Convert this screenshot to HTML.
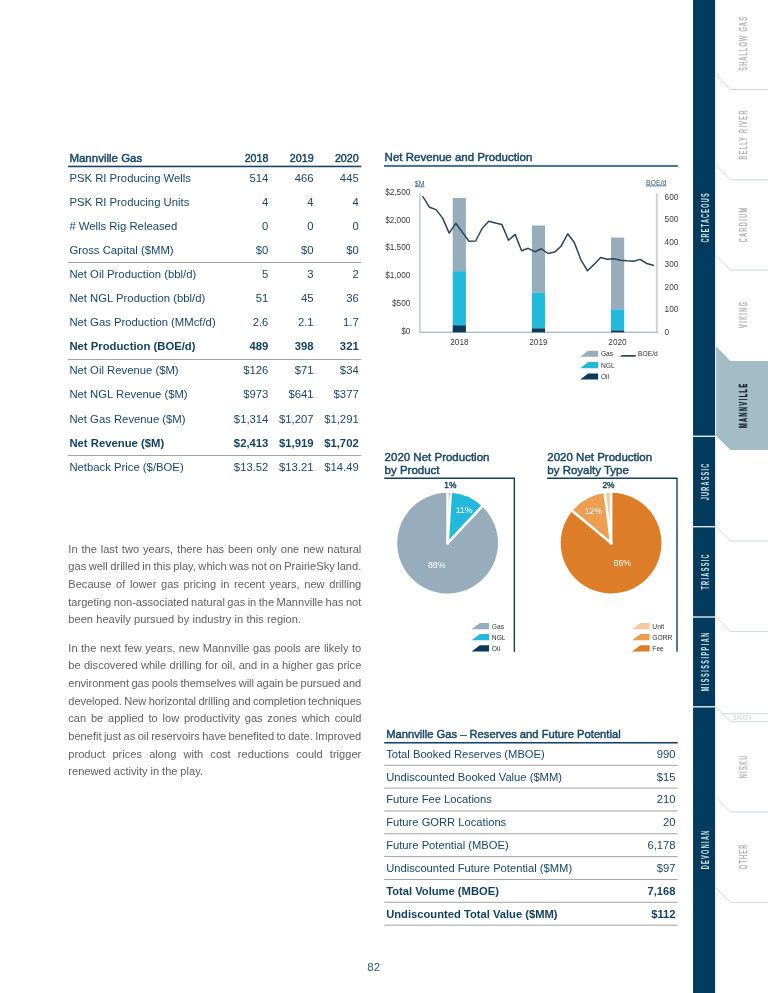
<!DOCTYPE html>
<html lang="en"><head><meta charset="utf-8"><title>Mannville Gas</title>
<style>
html,body{margin:0;padding:0;background:#fff;}
body{width:768px;height:993px;position:relative;overflow:hidden;font-family:"Liberation Sans",sans-serif;color:#194666;}
.abs{position:absolute;white-space:nowrap;}
svg{position:absolute;left:0;top:0;}
.row{position:absolute;left:68px;width:293.5px;height:24px;font-size:11.3px;line-height:24px;}
.row span{position:absolute;white-space:nowrap;}
.row .l{left:1.4px;}
.b{font-weight:bold;color:#133f5f;}
.title{position:absolute;font-size:11.5px;line-height:12.3px;white-space:nowrap;color:#194666;-webkit-text-stroke:0.45px #194666;}
.m i{font-style:normal;font-size:10.7px;}
.m{font-size:11.5px;-webkit-text-stroke:0.45px #194666;}
.p{position:absolute;left:68.3px;font-size:11.1px;line-height:17.65px;color:#616161;white-space:nowrap;height:17.65px;}
.r2{position:absolute;left:384.2px;width:293.5px;height:22.85px;font-size:11.2px;line-height:22.85px;}
.r2 span{position:absolute;white-space:nowrap;}
.r2 .l{left:2.0px;} .r2 .v{right:2.2px;}
.ax{font-size:8.25px;fill:#3d3d3d;}
.lg{font-size:6.7px;fill:#333;}
.vt{position:absolute;white-space:nowrap;width:0;height:0;font-size:10.6px;line-height:12px;}
.vt span{position:absolute;left:0;top:0;display:block;transform:translate(-50%,-50%) rotate(-90deg) scale(0.52,1);transform-origin:50% 50%;}
</style></head>
<body>
<div class="row m" style="top:145.50px"><span class="l">Mannville Gas</span><span class="c1" style="right:93.1px"><i>2018</i></span><span class="c2" style="right:47.9px"><i>2019</i></span><span class="c3" style="right:2.8px"><i>2020</i></span></div>
<div class="row" style="top:165.70px"><span class="l">PSK RI Producing Wells</span><span class="c1" style="right:93.1px">514</span><span class="c2" style="right:47.9px">466</span><span class="c3" style="right:2.8px">445</span></div>
<div class="row" style="top:189.78px"><span class="l">PSK RI Producing Units</span><span class="c1" style="right:93.1px">4</span><span class="c2" style="right:47.9px">4</span><span class="c3" style="right:2.8px">4</span></div>
<div class="row" style="top:213.86px"><span class="l"># Wells Rig Released</span><span class="c1" style="right:93.1px">0</span><span class="c2" style="right:47.9px">0</span><span class="c3" style="right:2.8px">0</span></div>
<div class="row" style="top:237.94px"><span class="l">Gross Capital ($MM)</span><span class="c1" style="right:93.1px">$0</span><span class="c2" style="right:47.9px">$0</span><span class="c3" style="right:2.8px">$0</span></div>
<div class="row" style="top:262.02px"><span class="l">Net Oil Production (bbl/d)</span><span class="c1" style="right:93.1px">5</span><span class="c2" style="right:47.9px">3</span><span class="c3" style="right:2.8px">2</span></div>
<div class="row" style="top:286.10px"><span class="l">Net NGL Production (bbl/d)</span><span class="c1" style="right:93.1px">51</span><span class="c2" style="right:47.9px">45</span><span class="c3" style="right:2.8px">36</span></div>
<div class="row" style="top:310.18px"><span class="l">Net Gas Production (MMcf/d)</span><span class="c1" style="right:93.1px">2.6</span><span class="c2" style="right:47.9px">2.1</span><span class="c3" style="right:2.8px">1.7</span></div>
<div class="row b" style="top:334.26px"><span class="l">Net Production (BOE/d)</span><span class="c1" style="right:93.1px">489</span><span class="c2" style="right:47.9px">398</span><span class="c3" style="right:2.8px">321</span></div>
<div class="row" style="top:358.34px"><span class="l">Net Oil Revenue ($M)</span><span class="c1" style="right:93.1px">$126</span><span class="c2" style="right:47.9px">$71</span><span class="c3" style="right:2.8px">$34</span></div>
<div class="row" style="top:382.42px"><span class="l">Net NGL Revenue ($M)</span><span class="c1" style="right:93.1px">$973</span><span class="c2" style="right:47.9px">$641</span><span class="c3" style="right:2.8px">$377</span></div>
<div class="row" style="top:406.50px"><span class="l">Net Gas Revenue ($M)</span><span class="c1" style="right:93.1px">$1,314</span><span class="c2" style="right:47.9px">$1,207</span><span class="c3" style="right:2.8px">$1,291</span></div>
<div class="row b" style="top:430.58px"><span class="l">Net Revenue ($M)</span><span class="c1" style="right:93.1px">$2,413</span><span class="c2" style="right:47.9px">$1,919</span><span class="c3" style="right:2.8px">$1,702</span></div>
<div class="row" style="top:454.66px"><span class="l">Netback Price ($/BOE)</span><span class="c1" style="right:93.1px">$13.52</span><span class="c2" style="right:47.9px">$13.21</span><span class="c3" style="right:2.8px">$14.49</span></div>
<div class="p" style="top:540.60px;word-spacing:0.790px">In the last two years, there has been only one new natural</div>
<div class="p" style="top:558.25px;word-spacing:-0.588px;letter-spacing:-0.000px">gas well drilled in this play, which was not on PrairieSky land.</div>
<div class="p" style="top:575.90px;word-spacing:1.517px">Because of lower gas pricing in recent years, new drilling</div>
<div class="p" style="top:593.55px;word-spacing:-0.600px;letter-spacing:-0.022px">targeting non-associated natural gas in the Mannville has not</div>
<div class="p" style="top:611.20px;word-spacing:0.205px">been heavily pursued by industry in this region.</div>
<div class="p" style="top:639.60px;word-spacing:0.401px">In the next few years, new Mannville gas pools are likely to</div>
<div class="p" style="top:657.25px;word-spacing:0.232px">be discovered while drilling for oil, and in a higher gas price</div>
<div class="p" style="top:674.90px;word-spacing:-0.600px;letter-spacing:-0.034px">environment gas pools themselves will again be pursued and</div>
<div class="p" style="top:692.55px;word-spacing:-0.600px;letter-spacing:-0.074px">developed. New horizontal drilling and completion techniques</div>
<div class="p" style="top:710.20px;word-spacing:1.653px">can be applied to low productivity gas zones which could</div>
<div class="p" style="top:727.85px;word-spacing:-0.600px;letter-spacing:-0.021px">benefit just as oil reservoirs have benefited to date. Improved</div>
<div class="p" style="top:745.50px;word-spacing:4.065px">product prices along with cost reductions could trigger</div>
<div class="p" style="top:763.15px;word-spacing:-0.192px;letter-spacing:0.000px">renewed activity in the play.</div>
<div class="title" style="left:384.6px;top:151.3px">Net Revenue and Production</div>
<div class="title" style="left:384.6px;top:451.3px">2020 Net Production<br>by Product</div>
<div class="title" style="left:547.3px;top:451.3px">2020 Net Production<br>by Royalty Type</div>
<div class="r2 m" style="top:723.40px"><span class="l">Mannville Gas – Reserves and Future Potential</span></div>
<div class="r2" style="top:742.70px"><span class="l">Total Booked Reserves (MBOE)</span><span class="v">990</span></div>
<div class="r2" style="top:765.53px"><span class="l">Undiscounted Booked Value ($MM)</span><span class="v">$15</span></div>
<div class="r2" style="top:788.36px"><span class="l">Future Fee Locations</span><span class="v">210</span></div>
<div class="r2" style="top:811.19px"><span class="l">Future GORR Locations</span><span class="v">20</span></div>
<div class="r2" style="top:834.02px"><span class="l">Future Potential (MBOE)</span><span class="v">6,178</span></div>
<div class="r2" style="top:856.85px"><span class="l">Undiscounted Future Potential ($MM)</span><span class="v">$97</span></div>
<div class="r2 b" style="top:879.68px"><span class="l">Total Volume (MBOE)</span><span class="v">7,168</span></div>
<div class="r2 b" style="top:902.51px"><span class="l">Undiscounted Total Value ($MM)</span><span class="v">$112</span></div>
<div class="abs" style="left:367.3px;top:961.4px;font-size:11.5px;color:#2d5876">82</div>
<svg width="768" height="993" viewBox="0 0 768 993" style="font-family:'Liberation Sans',sans-serif"><rect x="68" y="165.65" width="293.3" height="1.6" fill="#1a4564"/>
<rect x="68" y="262.00" width="293.3" height="1" fill="#a3a3a3"/>
<rect x="68" y="359.00" width="293.3" height="1" fill="#a3a3a3"/>
<rect x="68" y="455.00" width="293.3" height="1" fill="#a3a3a3"/>
<rect x="384" y="164.90" width="293.8" height="2.1" fill="#4f7690"/>
<rect x="384.2" y="741.95" width="293.5" height="1.6" fill="#1a4564"/>
<rect x="384.2" y="764.80" width="293.5" height="1" fill="#a3a3a3"/>
<rect x="384.2" y="787.63" width="293.5" height="1" fill="#a3a3a3"/>
<rect x="384.2" y="810.46" width="293.5" height="1" fill="#a3a3a3"/>
<rect x="384.2" y="833.29" width="293.5" height="1" fill="#a3a3a3"/>
<rect x="384.2" y="856.12" width="293.5" height="1" fill="#a3a3a3"/>
<rect x="384.2" y="878.95" width="293.5" height="1" fill="#a3a3a3"/>
<rect x="384.2" y="901.78" width="293.5" height="1" fill="#a3a3a3"/>
<rect x="384.2" y="924.61" width="293.5" height="1" fill="#a3a3a3"/>
<rect x="418.9" y="193.1" width="1.8" height="139.8" fill="#c6d2da"/>
<rect x="655.9" y="193.1" width="1.8" height="139.8" fill="#c6d2da"/>
<rect x="418.9" y="331.65" width="238.8" height="1.3" fill="#a8bcc7"/>
<rect x="452.7" y="197.99" width="13.2" height="73.14" fill="#97adbb"/>
<rect x="452.7" y="271.13" width="13.2" height="54.16" fill="#21b9dc"/>
<rect x="452.7" y="325.29" width="13.2" height="7.01" fill="#0b3a5a"/>
<rect x="531.9" y="225.49" width="13.2" height="67.18" fill="#97adbb"/>
<rect x="531.9" y="292.67" width="13.2" height="35.68" fill="#21b9dc"/>
<rect x="531.9" y="328.35" width="13.2" height="3.95" fill="#0b3a5a"/>
<rect x="611.0" y="237.57" width="13.2" height="71.86" fill="#97adbb"/>
<rect x="611.0" y="309.42" width="13.2" height="20.98" fill="#21b9dc"/>
<rect x="611.0" y="330.41" width="13.2" height="1.89" fill="#0b3a5a"/>
<polyline points="422.9,196.7 429.5,207.3 436.1,209.6 442.6,218.1 449.2,233.1 455.8,223.3 462.4,232.3 469.0,241.2 475.6,241.0 482.1,228.5 488.7,221.2 495.3,222.9 501.9,224.6 508.5,240.2 515.1,234.4 521.6,250.8 528.2,248.3 534.8,251.7 541.4,248.8 548.0,253.5 554.6,252.1 561.1,246.2 567.7,233.8 574.3,242.5 580.9,259.8 587.5,270.8 594.1,264.4 600.6,257.5 607.2,259.2 613.8,258.8 620.4,260.2 627.0,260.8 633.6,261.2 640.1,259.4 646.7,263.5 653.3,265.2" fill="none" stroke="#2b455a" stroke-width="1.5" stroke-linejoin="round" stroke-linecap="round"/>
<text class="ax" x="410.4" y="333.85" text-anchor="end">$0</text>
<text class="ax" x="410.4" y="306.02" text-anchor="end">$500</text>
<text class="ax" x="410.4" y="278.19" text-anchor="end">$1,000</text>
<text class="ax" x="410.4" y="250.36" text-anchor="end">$1,500</text>
<text class="ax" x="410.4" y="222.53" text-anchor="end">$2,000</text>
<text class="ax" x="410.4" y="194.70" text-anchor="end">$2,500</text>
<text class="ax" x="664.6" y="334.8">0</text>
<text class="ax" x="664.6" y="312.3">100</text>
<text class="ax" x="664.6" y="289.8">200</text>
<text class="ax" x="664.6" y="267.3">300</text>
<text class="ax" x="664.6" y="244.8">400</text>
<text class="ax" x="664.6" y="222.3">500</text>
<text class="ax" x="664.6" y="199.8">600</text>
<text class="ax" x="459.4" y="345" text-anchor="middle">2018</text>
<text class="ax" x="538.4" y="345" text-anchor="middle">2019</text>
<text class="ax" x="617.5" y="345" text-anchor="middle">2020</text>
<text x="414.8" y="185.9" style="font-size:7px;fill:#2f5b7a">$M</text>
<rect x="414.8" y="186.4" width="9.8" height="0.8" fill="#2f5b7a"/>
<text x="645.9" y="185.0" style="font-size:7px;fill:#2f5b7a">BOE/d</text>
<rect x="645.9" y="185.5" width="20.5" height="0.8" fill="#2f5b7a"/>
<path d="M580.3 356.8 L588.1 350.7 H598.1 V356.8 Z" fill="#97adbb"/>
<text class="lg" x="600.9" y="356.3">Gas</text>
<path d="M580.3 368.2 L588.1 362.1 H598.1 V368.2 Z" fill="#21b9dc"/>
<text class="lg" x="600.9" y="367.7">NGL</text>
<path d="M580.3 379.6 L588.1 373.5 H598.1 V379.6 Z" fill="#0b3a5a"/>
<text class="lg" x="600.9" y="379.1">Oil</text>
<path d="M619.6 356.8 L621.9 355.1 H636 L635.4 356.8 Z" fill="#2f4a5f"/>
<text class="lg" x="638.1" y="356.4">BOE/d</text>
<path d="M447.6 543.1 L447.60 492.70 A50.4 50.4 0 0 1 450.76 492.80 Z" fill="#0b3a5a"/>
<path d="M447.6 543.1 L450.76 492.80 A50.4 50.4 0 0 1 482.10 506.36 Z" fill="#21b9dc"/>
<path d="M447.6 543.1 L482.10 506.36 A50.4 50.4 0 1 1 447.60 492.70 Z" fill="#97adbb"/>
<path d="M447.6 543.1 L447.60 491.70" stroke="#fff" stroke-width="2.6" stroke-linecap="square" fill="none"/>
<path d="M447.6 543.1 L450.83 491.80" stroke="#fff" stroke-width="2.6" stroke-linecap="square" fill="none"/>
<path d="M447.6 543.1 L482.79 505.63" stroke="#fff" stroke-width="2.6" stroke-linecap="square" fill="none"/>
<path d="M611.1 543.1 L611.10 492.70 A50.4 50.4 0 1 1 572.27 510.97 Z" fill="#de7d28"/>
<path d="M611.1 543.1 L572.27 510.97 A50.4 50.4 0 0 1 604.78 493.10 Z" fill="#ee9e52"/>
<path d="M611.1 543.1 L604.78 493.10 A50.4 50.4 0 0 1 611.10 492.70 Z" fill="#f6c89b"/>
<path d="M611.1 543.1 L611.10 491.70" stroke="#fff" stroke-width="2.6" stroke-linecap="square" fill="none"/>
<path d="M611.1 543.1 L571.50 510.34" stroke="#fff" stroke-width="2.6" stroke-linecap="square" fill="none"/>
<path d="M611.1 543.1 L604.66 492.11" stroke="#fff" stroke-width="2.6" stroke-linecap="square" fill="none"/>
<text x="450.3" y="488" text-anchor="middle" style="font-size:8.4px;stroke-width:0.4px;stroke:#1d4a68;fill:#194666">1%</text>
<text x="464.2" y="513.3" text-anchor="middle" style="font-size:8.8px;fill:#fff">11%</text>
<text x="436.7" y="567.7" text-anchor="middle" style="font-size:8.8px;fill:#fff">88%</text>
<text x="608.5" y="488" text-anchor="middle" style="font-size:8.4px;stroke-width:0.4px;stroke:#1d4a68;fill:#194666">2%</text>
<text x="593.5" y="514.3" text-anchor="middle" style="font-size:8.8px;fill:#fff">12%</text>
<text x="622.3" y="565.8" text-anchor="middle" style="font-size:8.8px;fill:#fff">86%</text>
<path d="M384.2 478.3 H514.35 V651.7" fill="none" stroke="#123f60" stroke-width="1.4"/>
<path d="M547.1 478.3 H677.0 V651.7" fill="none" stroke="#123f60" stroke-width="1.4"/>
<path d="M471.5 629.2 L479.9 622.9 H489.1 V629.2 Z" fill="#97adbb"/>
<text class="lg" x="491.8" y="628.7">Gas</text>
<path d="M471.5 640.3 L479.9 634.0 H489.1 V640.3 Z" fill="#21b9dc"/>
<text class="lg" x="491.8" y="639.8">NGL</text>
<path d="M471.5 651.5 L479.9 645.2 H489.1 V651.5 Z" fill="#0b3a5a"/>
<text class="lg" x="491.8" y="651.0">Oil</text>
<path d="M632.0 629.2 L640.4 622.9 H649.6 V629.2 Z" fill="#f6c89b"/>
<text class="lg" x="652.3" y="628.7">Unit</text>
<path d="M632.0 640.3 L640.4 634.0 H649.6 V640.3 Z" fill="#ee9e52"/>
<text class="lg" x="652.3" y="639.8">GORR</text>
<path d="M632.0 651.5 L640.4 645.2 H649.6 V651.5 Z" fill="#de7d28"/>
<text class="lg" x="652.3" y="651.0">Fee</text>
<rect x="693.05" y="0" width="22.05" height="993" fill="#023b5e"/>
<rect x="693" y="435.60" width="22.2" height="1.4" fill="#e3eaee"/>
<rect x="693" y="526.00" width="22.2" height="1.4" fill="#e3eaee"/>
<rect x="693" y="616.30" width="22.2" height="1.4" fill="#e3eaee"/>
<rect x="693" y="706.10" width="22.2" height="1.4" fill="#e3eaee"/>
<path d="M716.1 346.6 L730.4 360.9 H768 V450.1 H730.4 L716.1 435.9 Z" fill="#a4bcc6"/>
<path d="M716.1 75.1 L730.5 89.5 H768" fill="none" stroke="#cdd8dd" stroke-width="1"/>
<path d="M716.1 165.4 L730.5 179.8 H768" fill="none" stroke="#cdd8dd" stroke-width="1"/>
<path d="M716.1 255.7 L730.5 270.1 H768" fill="none" stroke="#cdd8dd" stroke-width="1"/>
<path d="M716.1 526.6 L730.5 541.0 H768" fill="none" stroke="#cdd8dd" stroke-width="1"/>
<path d="M716.1 617.0 L730.5 631.4 H768" fill="none" stroke="#cdd8dd" stroke-width="1"/>
<path d="M716.1 707.3 L730.5 721.7 H768" fill="none" stroke="#cdd8dd" stroke-width="1"/>
<path d="M716.1 797.6 L730.5 812.0 H768" fill="none" stroke="#cdd8dd" stroke-width="1"/>
<path d="M716.1 887.9 L730.5 902.3 H768" fill="none" stroke="#cdd8dd" stroke-width="1"/>
<path d="M722 713.75 H768" fill="none" stroke="#cdd8dd" stroke-width="1"/></svg>
<div class="vt" style="left:742.9px;top:44.3px;color:#b2b2b2;-webkit-text-stroke:0.45px #b2b2b2;font-weight:normal;letter-spacing:2.60px"><span style="padding-left:2.60px">SHALLOW GAS</span></div>
<div class="vt" style="left:742.9px;top:134.5px;color:#b2b2b2;-webkit-text-stroke:0.45px #b2b2b2;font-weight:normal;letter-spacing:2.65px"><span style="padding-left:2.65px">BELLY RIVER</span></div>
<div class="vt" style="left:742.9px;top:225.1px;color:#b2b2b2;-webkit-text-stroke:0.45px #b2b2b2;font-weight:normal;letter-spacing:2.75px"><span style="padding-left:2.75px">CARDIUM</span></div>
<div class="vt" style="left:742.9px;top:315.1px;color:#b2b2b2;-webkit-text-stroke:0.45px #b2b2b2;font-weight:normal;letter-spacing:2.82px"><span style="padding-left:2.82px">VIKING</span></div>
<div class="vt" style="left:743.0px;top:405.6px;color:#17242e;-webkit-text-stroke:0.45px #17242e;font-weight:bold;letter-spacing:2.88px"><span style="padding-left:2.88px">MANNVILLE</span></div>
<div class="vt" style="left:742.9px;top:766.8px;color:#b2b2b2;-webkit-text-stroke:0.45px #b2b2b2;font-weight:normal;letter-spacing:2.77px"><span style="padding-left:2.77px">NISKU</span></div>
<div class="vt" style="left:742.9px;top:857.0px;color:#b2b2b2;-webkit-text-stroke:0.45px #b2b2b2;font-weight:normal;letter-spacing:2.41px"><span style="padding-left:2.41px">OTHER</span></div>
<div class="vt" style="left:704.6px;top:217.6px;color:#dbe7ee;font-weight:bold;letter-spacing:2.36px"><span style="padding-left:2.36px">CRETACEOUS</span></div>
<div class="vt" style="left:704.6px;top:481.5px;color:#dbe7ee;font-weight:bold;letter-spacing:2.40px"><span style="padding-left:2.40px">JURASSIC</span></div>
<div class="vt" style="left:704.6px;top:571.7px;color:#dbe7ee;font-weight:bold;letter-spacing:2.61px"><span style="padding-left:2.61px">TRIASSIC</span></div>
<div class="vt" style="left:704.6px;top:661.9px;color:#dbe7ee;font-weight:bold;letter-spacing:2.83px"><span style="padding-left:2.83px">MISSISSIPPIAN</span></div>
<div class="vt" style="left:704.6px;top:849.9px;color:#dbe7ee;font-weight:bold;letter-spacing:2.62px"><span style="padding-left:2.62px">DEVONIAN</span></div>
<div class="abs" style="left:733.8px;top:713.6px;color:#cacaca;font-size:6.4px;line-height:8px;letter-spacing:1px;transform-origin:0 0;transform:scale(0.55,1)">BAKKEN</div>
</body></html>
